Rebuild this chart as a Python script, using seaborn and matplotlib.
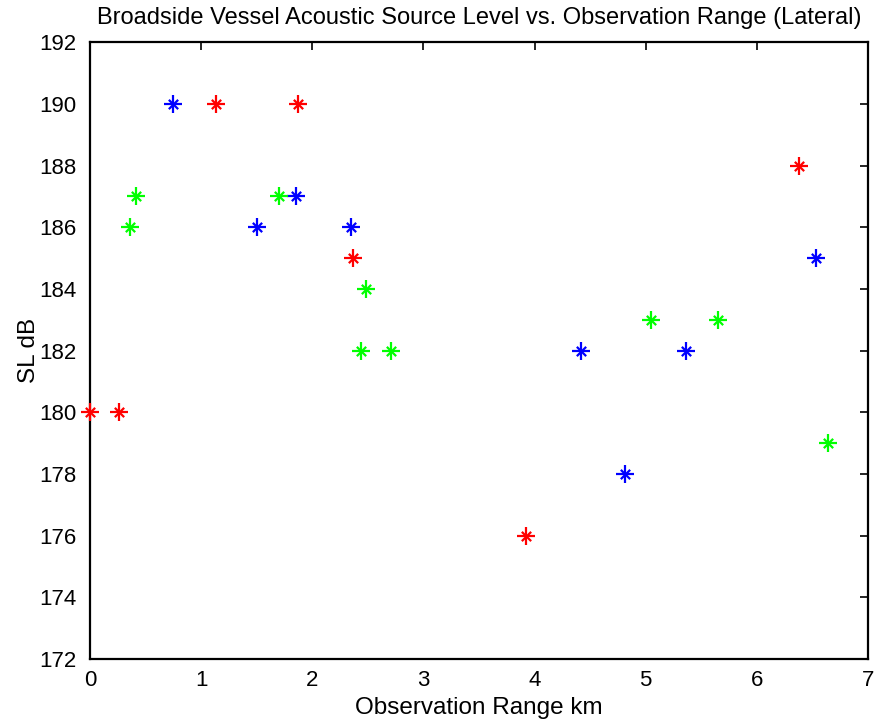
import matplotlib
matplotlib.use("Agg")
import matplotlib.pyplot as plt
import seaborn as sns
import pandas as pd

# Source level measurements (dB) against lateral observation range (km), per vessel
red_range = [0.00, 0.26, 1.13, 1.87, 2.37, 3.92, 6.38]
red_sl = [180, 180, 190, 190, 185, 176, 188]

blue_range = [0.75, 1.50, 1.85, 2.35, 4.42, 4.81, 5.36, 6.53]
blue_sl = [190, 186, 187, 186, 182, 178, 182, 185]

green_range = [0.36, 0.41, 1.70, 2.44, 2.48, 2.71, 5.05, 5.65, 6.64]
green_sl = [186, 187, 187, 182, 184, 182, 183, 183, 179]

x_ticks = [0, 1, 2, 3, 4, 5, 6, 7]
y_ticks = [172, 174, 176, 178, 180, 182, 184, 186, 188, 190, 192]

groups = [
    ("red", red_range, red_sl, (1.0, 0.0, 0.0)),
    ("blue", blue_range, blue_sl, (0.0, 0.0, 1.0)),
    ("green", green_range, green_sl, (0.0, 1.0, 0.0)),
]

sns.set_theme(style="white")
plt.rcParams["font.family"] = ["Liberation Sans", "DejaVu Sans"]
plt.rcParams["text.color"] = "black"
plt.rcParams["axes.labelcolor"] = "black"
plt.rcParams["xtick.color"] = "black"
plt.rcParams["ytick.color"] = "black"

fig = plt.figure(figsize=(8.74, 7.28), dpi=100)
ax = fig.add_axes([0.103, 0.095, 0.890, 0.847])

for name, xr, sl, col in groups:
    df = pd.DataFrame({"range": xr, "sl": sl})
    # asterisk marker built from a plus and a smaller cross
    sns.scatterplot(data=df, x="range", y="sl", ax=ax, marker="+", s=150,
                    color=col, linewidth=1.6, legend=False, zorder=3,
                    clip_on=False)
    sns.scatterplot(data=df, x="range", y="sl", ax=ax, marker="x", s=45,
                    color=col, linewidth=1.6, legend=False, zorder=3,
                    clip_on=False)

ax.set_xlim(0, 7)
ax.set_ylim(172, 192)
ax.set_xticks(x_ticks)
ax.set_yticks(y_ticks)
ax.set_xticklabels([str(t) for t in x_ticks])
ax.set_yticklabels([str(t) for t in y_ticks])

ax.tick_params(axis="both", direction="in", length=6, width=1.2, labelsize=16,
               top=True, right=True, colors="black")
ax.tick_params(axis="x", pad=8)
ax.tick_params(axis="y", pad=10)
for sp in ax.spines.values():
    sp.set_visible(True)
    sp.set_color("black")
    sp.set_linewidth(1.6)

ax.set_title("Broadside Vessel Acoustic Source Level vs. Observation Range (Lateral)",
             fontsize=17, pad=13, color="black")
ax.set_xlabel("Observation Range km", fontsize=17.5, labelpad=4)
ax.set_ylabel("SL dB", fontsize=17.5, labelpad=-1)

fig.savefig("out.png", dpi=100, facecolor="white")
